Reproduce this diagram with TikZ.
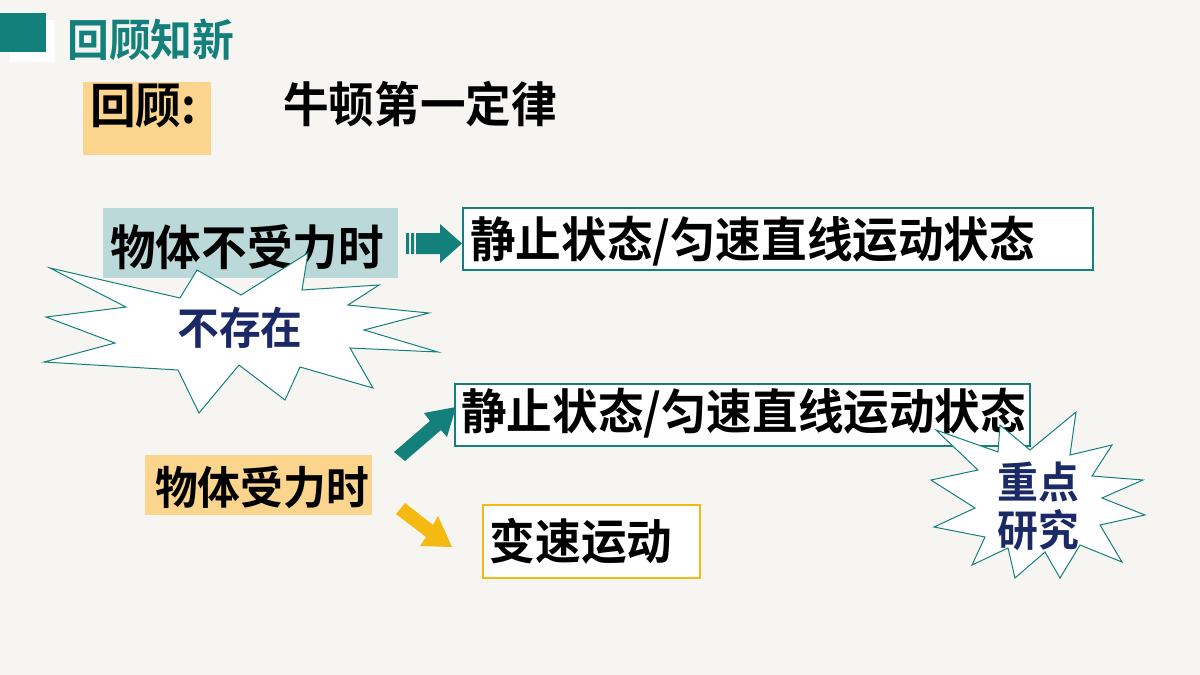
\documentclass[tikz,border=0pt]{standalone}
\usepackage{fontspec}
\newfontfamily\cjk{Noto Sans CJK SC Bold}[FakeStretch=0.95]
\definecolor{teal1}{HTML}{13807B}
\definecolor{navy}{HTML}{1B2A66}
\definecolor{paleteal}{HTML}{BCD9D9}
\definecolor{paleorange}{HTML}{FBD48E}
\definecolor{gold}{HTML}{F4BA12}
\definecolor{bg}{HTML}{F6F5F1}
\tikzset{
 txt/.style={font=\cjk\fontsize{48}{50}\selectfont, inner sep=0pt},
 box/.style={draw=teal1, line width=2.2pt, fill=white},
 star/.style={draw=teal1, line width=1pt, fill=white},
}
\begin{document}
\begin{tikzpicture}[x=1pt,y=-1pt]
\fill[bg] (0,0) rectangle (1200,675);
\useasboundingbox (0,0) rectangle (1200,675);
% header
\fill[white] (10,20) rectangle (55,62);
\fill[teal1] (0,13) rectangle (46,52);
\node[txt, text=teal1, font=\cjk\fontsize{44}{46}\selectfont, anchor=west] (title) at (67,40) {回顾知新};
\fill[paleorange] (83,82) rectangle (211,155);
\node[txt, anchor=west] (hg) at (90,106) {回顾:};
\node[txt, anchor=west] (law) at (283,104) {牛顿第一定律};
% row 1
\fill[paleteal] (103,208) rectangle (398,278);
\node[txt] (nof) at (247,247) {物体不受力时};
\draw[box] (463,208) rectangle (1093,270);
\node[txt, anchor=west] (s1) at (470,241) {静止状态/匀速直线运动状态};
\fill[teal1] (406,233) rectangle (409,254) (411,233) rectangle (414,254) (416,233) rectangle (440,254);
\fill[teal1] (440,224) -- (462,243.5) -- (440,263) -- cycle;
% star 1
\draw[star] (50,268) -- (180,298) -- (197,270) -- (241,295) -- (308,253) -- (302,290) -- (379,285) -- (348,305) -- (429,313) -- (364,330) -- (438,352) -- (350,348) -- (373,388) -- (300,367) -- (285,400) -- (239,365) -- (199,413) -- (178,370) -- (44,362) -- (115,343) -- (46,317) -- (126,307) -- cycle;
\node[txt, text=navy, font=\cjk\fontsize{44}{46}\selectfont] (nx) at (240,328) {不存在};
% row 2
\draw[box] (455,384) rectangle (1030,446);
\node[txt, anchor=west] (s2) at (461,413) {静止状态/匀速直线运动状态};
\fill[paleorange] (145,455) rectangle (372,515);
\node[txt, font=\cjk\fontsize{45}{48}\selectfont] (wf) at (262,487) {物体受力时};
\fill[teal1] (394,452) -- (430,421) -- (424,413) -- (456,407) -- (447,437) -- (441,430) -- (405,461) -- cycle;
\fill[gold] (405,503) -- (433,525) -- (438,516) -- (452,547) -- (420,546) -- (426,537) -- (396,514) -- cycle;
\draw[draw=gold, line width=2.2pt, fill=white] (483,505) rectangle (700,578);
\node[txt] (bs) at (581,541) {变速运动};
% star 2
\draw[star] (1076,412) -- (1070,455) -- (1112,445) -- (1092,476) -- (1143,480) -- (1102,498) -- (1145,515) -- (1100,525) -- (1122,562) -- (1080,545) -- (1060,578) -- (1045,552) -- (1015,578) -- (1008,548) -- (972,565) -- (985,537) -- (934,527) -- (975,508) -- (931,480) -- (978,470) -- (936,430) -- (998,452) -- (1000,425) -- (1030,450) -- cycle;
\node[txt, text=navy, font=\cjk\fontsize{43}{48}\selectfont, align=center] (zd) at (1038,506) {重点\\研究};
\end{tikzpicture}
\end{document}
